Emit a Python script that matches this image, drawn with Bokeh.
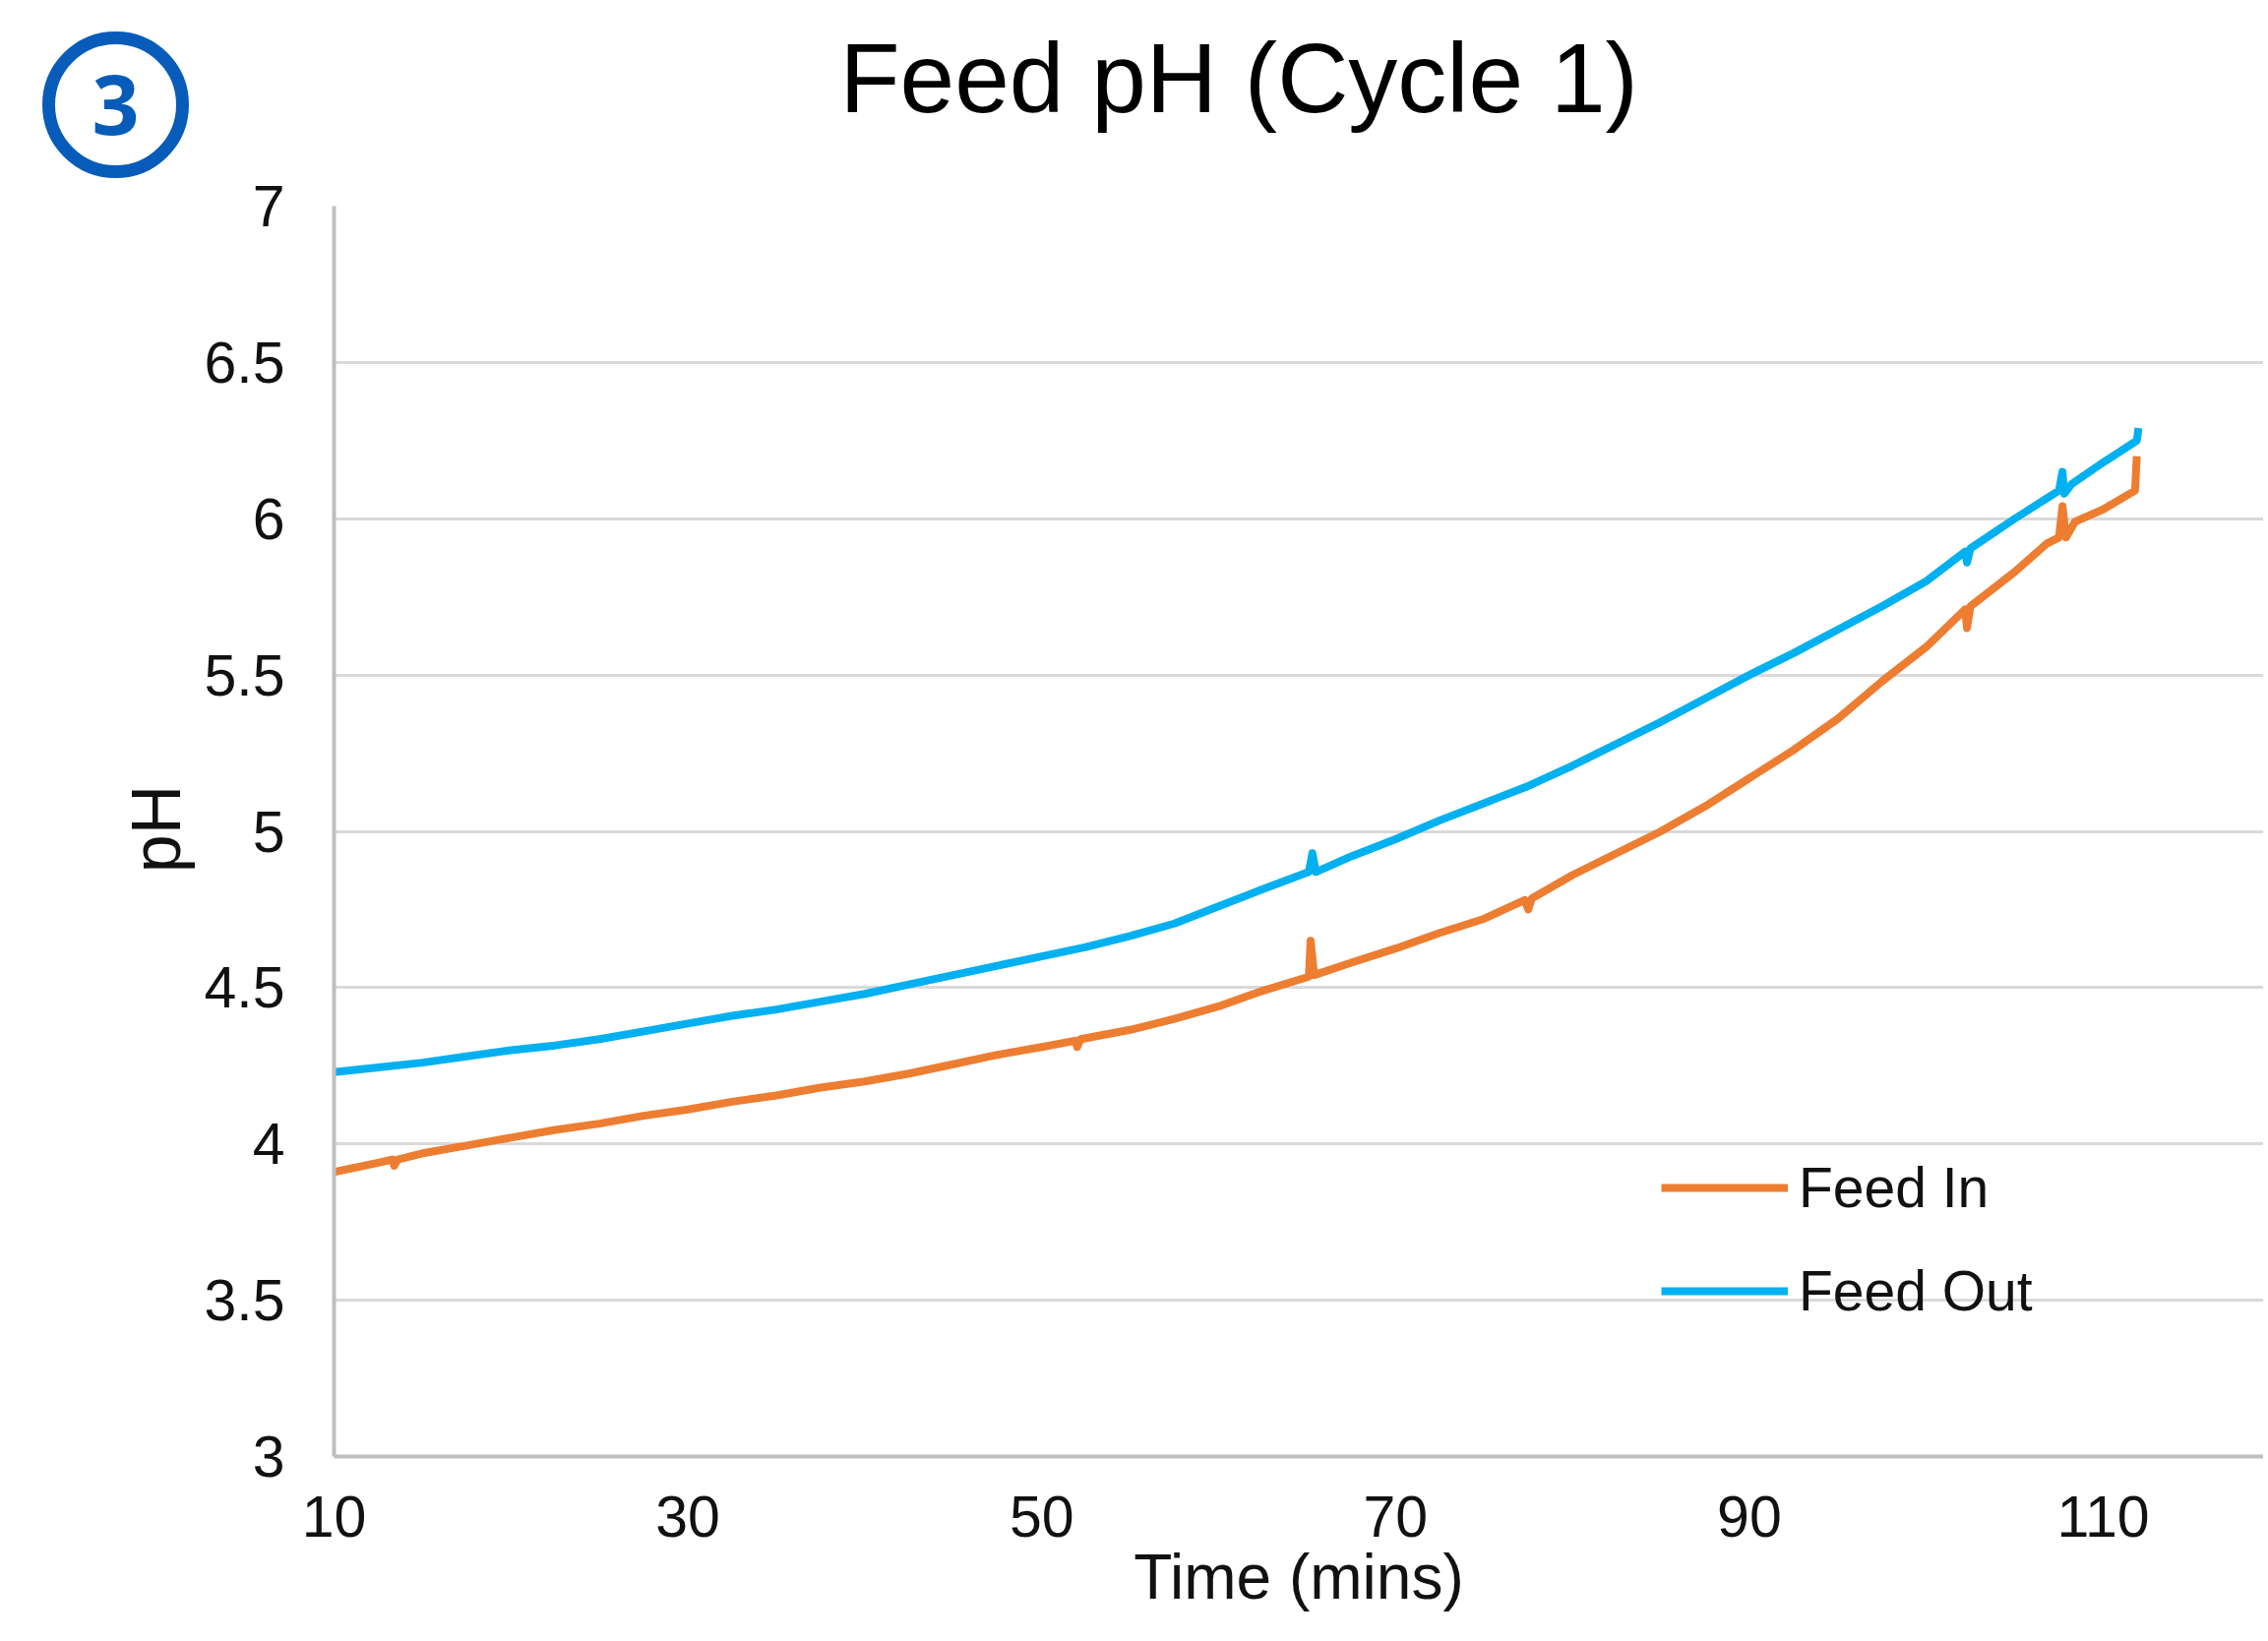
import numpy as np
from bokeh.plotting import figure
from bokeh.layouts import row
from bokeh.models import Range1d, FixedTicker, Legend, LegendItem
from bokeh.core.properties import value
from bokeh.embed import file_html
from bokeh.resources import INLINE

# ---------------- data ----------------
title_text = "Feed pH (Cycle 1)"
x_label = "Time (mins)"
y_label = "pH"
badge_text = "3"
series_names = ["Feed In", "Feed Out"]

x_ticks = [10, 30, 50, 70, 90, 110]
y_ticks = [3, 3.5, 4, 4.5, 5, 5.5, 6, 6.5, 7]
y_tick_labels = ["3", "3.5", "4", "4.5", "5", "5.5", "6", "6.5", "7"]

feed_in_time = [10.0, 12.5, 13.3, 13.4, 13.6, 15.0, 17.5, 20.0, 22.5, 25.0, 27.5, 30.0,
                32.5, 35.0, 37.5, 40.0, 42.5, 45.0, 47.5, 50.0, 51.9, 52.0, 52.2, 55.0,
                57.5, 60.0, 62.5, 65.1, 65.2, 65.4, 67.5, 70.0, 72.5, 75.0, 77.3, 77.5,
                77.7, 80.0, 82.5, 85.0, 87.5, 90.0, 92.5, 95.0, 97.5, 100.0, 102.2, 102.3,
                102.5, 105.0, 106.8, 107.5, 107.7, 107.9, 108.4, 110.0, 111.8, 111.9]
feed_in_ph = [3.91, 3.94, 3.95, 3.93, 3.95, 3.97, 3.995, 4.02, 4.045, 4.065, 4.09, 4.11,
              4.135, 4.155, 4.18, 4.20, 4.225, 4.255, 4.285, 4.31, 4.33, 4.31, 4.335, 4.365,
              4.40, 4.44, 4.49, 4.535, 4.65, 4.54, 4.58, 4.625, 4.675, 4.72, 4.78, 4.75,
              4.785, 4.86, 4.93, 5.00, 5.08, 5.17, 5.26, 5.36, 5.48, 5.59, 5.71, 5.65,
              5.72, 5.83, 5.92, 5.94, 6.04, 5.94, 5.99, 6.03, 6.09, 6.20]

feed_out_time = [10.0, 12.5, 15.0, 17.5, 20.0, 22.5, 25.0, 27.5, 30.0, 32.5, 35.0, 37.5,
                 40.0, 42.5, 45.0, 47.5, 50.0, 52.5, 55.0, 57.5, 60.0, 62.5, 65.1, 65.3,
                 65.5, 67.5, 70.0, 72.5, 75.0, 77.5, 80.0, 82.5, 85.0, 87.5, 90.0, 92.5,
                 95.0, 97.5, 100.0, 102.2, 102.3, 102.5, 105.0, 107.5, 107.7, 107.8, 108.2,
                 110.0, 111.9, 112.0]
feed_out_ph = [4.23, 4.245, 4.26, 4.28, 4.30, 4.315, 4.335, 4.36, 4.385, 4.41, 4.43, 4.455,
               4.48, 4.51, 4.54, 4.57, 4.60, 4.63, 4.665, 4.705, 4.76, 4.815, 4.87, 4.93,
               4.87, 4.92, 4.975, 5.035, 5.09, 5.145, 5.21, 5.28, 5.35, 5.425, 5.50, 5.57,
               5.645, 5.72, 5.80, 5.895, 5.86, 5.905, 6.00, 6.09, 6.15, 6.08, 6.11,
               6.18, 6.25, 6.29]

# ---------------- layout constants ----------------
W, H = 2300, 1664
WL = 200                      # left strip (badge + y title)
FRAME_L, FRAME_T, FRAME_B = 339, 209, 1480
X0 = 10.0
PX_PER_MIN = 17.98
Y0, Y1 = 3.0, 7.0

ORANGE = "#ED7D31"
BLUE = "#00B0F0"
BADGE = "#075CB9"
TXT = "#111111"
FONT = "Liberation Sans"

WM = W - WL
X1 = X0 + (W - FRAME_L) / PX_PER_MIN

# ---------------- left strip: badge and y title ----------------
s = figure(width=WL, height=H, x_range=Range1d(0, WL), y_range=Range1d(0, H),
           output_backend="svg", toolbar_location=None,
           x_axis_location=None, y_axis_location=None,
           min_border=0, min_border_left=0, min_border_right=0,
           min_border_top=0, min_border_bottom=0)
if "frame_align" in s.properties():
    s.frame_align = False
s.outline_line_color = None
s.grid.visible = False
s.scatter(x=[117], y=[H - 106], size=136, marker="circle", fill_color=None,
          line_color=BADGE, line_width=13)
s.text(x=[117], y=[H - 106], text=[badge_text], text_align="center", text_baseline="middle",
       text_font=value("Open Sans"), text_font_style="bold", text_font_size="84px",
       text_color=BADGE)
s.text(x=[158], y=[H - 842], text=[y_label], angle=np.pi / 2, text_align="center",
       text_baseline="middle", text_font=value(FONT), text_font_size="70px",
       text_color=TXT)

# ---------------- main chart ----------------
p = figure(width=WM, height=H, x_range=Range1d(X0, X1), y_range=Range1d(Y0, Y1),
           output_backend="svg", toolbar_location=None,
           min_border_left=FRAME_L - WL, min_border_top=FRAME_T,
           min_border_bottom=H - FRAME_B, min_border_right=0)
if "frame_align" in p.properties():
    p.frame_align = False
p.outline_line_color = None
p.background_fill_color = "white"
p.border_fill_color = "white"

p.title.text = title_text
p.title.align = "left"
p.title.offset = 514
p.title.text_font = FONT
p.title.text_font_size = "100px"
p.title.text_font_style = "normal"
p.title.text_color = "#000000"
p.title.vertical_align = "bottom"
if "padding" in p.title.properties():
    p.title.standoff = 0
    p.title.padding = dict(left=0, right=0, top=0, bottom=75)
else:
    p.title.standoff = 75

p.xaxis.ticker = FixedTicker(ticks=x_ticks)
p.yaxis.ticker = FixedTicker(ticks=y_ticks)
p.yaxis.major_label_overrides = {float(t): l for t, l in zip(y_ticks, y_tick_labels)}
for ax in (p.xaxis[0], p.yaxis[0]):
    ax.axis_line_color = "#bfbfbf"
    ax.axis_line_width = 4
    ax.major_tick_line_color = None
    ax.minor_tick_line_color = None
    ax.major_tick_out = 0
    ax.major_tick_in = 0
    ax.major_label_text_font = FONT
    ax.major_label_text_font_size = "59px"
    ax.major_label_text_color = TXT
p.xaxis.major_label_standoff = 40
p.yaxis.major_label_standoff = 50
p.xaxis.axis_label = x_label
p.xaxis.axis_label_text_font = FONT
p.xaxis.axis_label_text_font_size = "64px"
p.xaxis.axis_label_text_font_style = "normal"
p.xaxis.axis_label_text_color = TXT
p.xaxis.axis_label_standoff = 2

p.xgrid.visible = False
p.ygrid.grid_line_color = "#d9d9d9"
p.ygrid.grid_line_width = 3

r_in = p.line(feed_in_time, feed_in_ph, line_color=ORANGE, line_width=8, line_join="round")
r_out = p.line(feed_out_time, feed_out_ph, line_color=BLUE, line_width=8, line_join="round")

legend = Legend(items=[LegendItem(label=series_names[0], renderers=[r_in]),
                       LegendItem(label=series_names[1], renderers=[r_out])],
                location=(1349, 135), orientation="vertical",
                glyph_width=129, glyph_height=66, label_height=66, spacing=39,
                padding=0, margin=0, label_standoff=11,
                label_text_font=FONT, label_text_font_size="57px", label_text_color=TXT,
                background_fill_alpha=0, border_line_color=None)
p.add_layout(legend)

layout = row(s, p)
open("out.html", "w").write(file_html(layout, INLINE))
